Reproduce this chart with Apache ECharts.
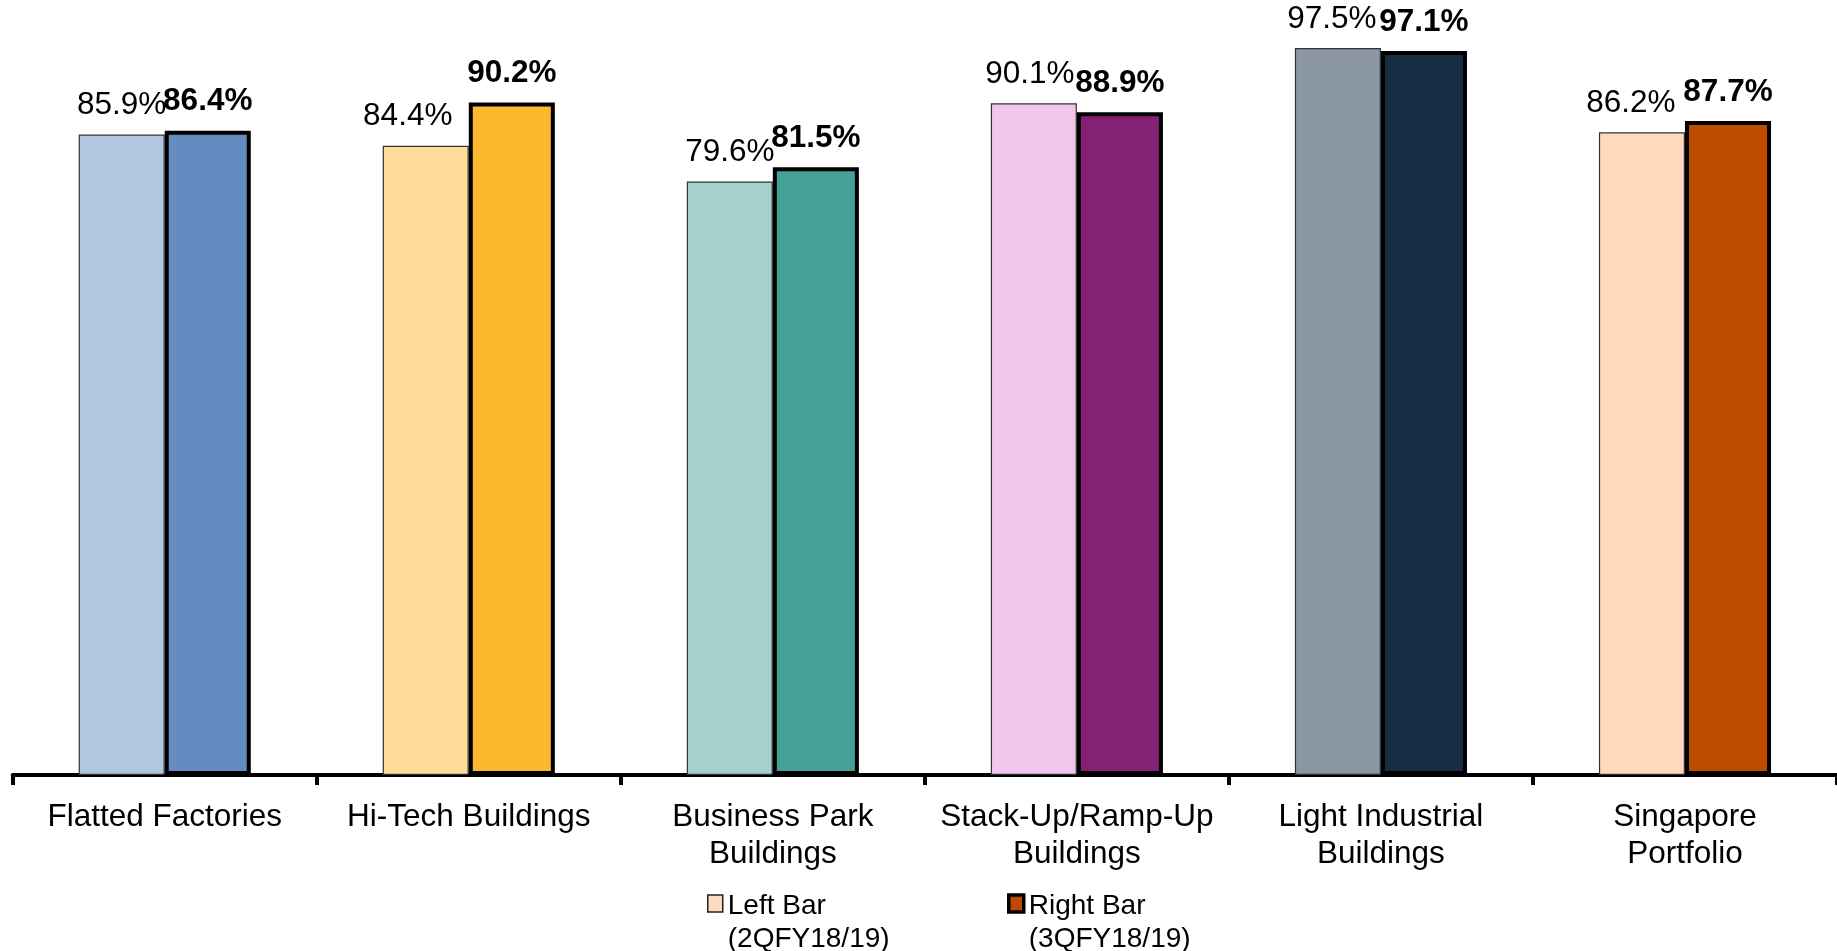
<!DOCTYPE html>
<html>
<head>
<meta charset="utf-8">
<script src="https://cdn.jsdelivr.net/npm/echarts@6/dist/echarts.min.js"></script>
<style>
html,body{margin:0;padding:0;background:#fff;}
#chart{width:1837px;height:951px;}
</style>
</head>
<body>
<div id="chart"></div>
<script>
const categories = ["Flatted Factories", "Hi-Tech Buildings", "Business Park\nBuildings", "Stack-Up/Ramp-Up\nBuildings", "Light Industrial\nBuildings", "Singapore\nPortfolio"];
const leftValues = [85.9, 84.4, 79.6, 90.1, 97.5, 86.2];
const rightValues = [86.4, 90.2, 81.5, 88.9, 97.1, 87.7];
const leftColors = ["#B3C6E0", "#FEDB96", "#A4D1CC", "#F0C6EA", "#8A96A3", "#FDD9BE"];
const rightColors = ["#658CC0", "#FCB92E", "#45A097", "#832273", "#182B45", "#BC4B00"];
const seriesNames = ["Left Bar\n(2QFY18/19)", "Right Bar\n(3QFY18/19)"];
// horizontal nudges of the left-bar value labels (style only, px)
const leftLabelNudge = [0, -18, 0, -4, -6, -11];

const FONT = "'Liberation Sans', Arial, sans-serif";
const chart = echarts.init(document.getElementById('chart'), null, {renderer: 'canvas'});

// square icon placed at top of a taller box so it lines up with the first text line
const ICON = 'path://M0,0L15,0L15,17L0,17Z M0,56';
const legendText = {fontFamily: FONT, fontSize: 28, lineHeight: 33, color: '#000'};

chart.setOption({
  animation: false,
  backgroundColor: '#fff',
  grid: {left: 12.7, right: 0, top: 29.4, bottom: 176, containLabel: false},
  legend: [
    {data: [{name: seriesNames[0], icon: ICON, itemStyle: {color: leftColors[5], borderColor: '#222', borderWidth: 1.5}}],
     left: 707, top: 890, padding: 0, itemWidth: 15, itemHeight: 56, itemGap: 6, textStyle: legendText, selectedMode: false},
    {data: [{name: seriesNames[1], icon: ICON, itemStyle: {color: rightColors[5], borderColor: '#000', borderWidth: 3.5}}],
     left: 1007, top: 890, padding: 0, itemWidth: 15, itemHeight: 56, itemGap: 6, textStyle: legendText, selectedMode: false}
  ],
  xAxis: {
    type: 'category',
    data: categories,
    axisLine: {show: true, lineStyle: {color: '#000', width: 4}},
    axisTick: {show: true, length: 10, lineStyle: {color: '#000', width: 4}},
    axisLabel: {fontFamily: FONT, fontSize: 31.5, lineHeight: 37, color: '#000', margin: 24, interval: 0, align: 'center'},
    splitLine: {show: false}
  },
  yAxis: {
    type: 'value', min: 0, max: 100, show: false
  },
  series: [
    {
      name: seriesNames[0],
      type: 'bar',
      barGap: '0%',
      barCategoryGap: '43.4%',
      itemStyle: {color: leftColors[5], borderColor: '#333', borderWidth: 1.2},
      data: leftValues.map((v, i) => ({value: v, itemStyle: {color: leftColors[i]}, label: {offset: [leftLabelNudge[i], 0]}})),
      label: {show: true, position: 'top', distance: 13, fontFamily: FONT, fontSize: 31.5, color: '#000',
        formatter: p => p.value.toFixed(1) + '%'}
    },
    {
      name: seriesNames[1],
      type: 'bar',
      barGap: '0%',
      barCategoryGap: '43.4%',
      itemStyle: {color: rightColors[5], borderColor: '#000', borderWidth: 4},
      data: rightValues.map((v, i) => ({value: v, itemStyle: {color: rightColors[i]}})),
      label: {show: true, position: 'top', distance: 13, fontFamily: FONT, fontSize: 31.5, fontWeight: 'bold', color: '#000',
        formatter: p => p.value.toFixed(1) + '%'}
    }
  ]
});
</script>
</body>
</html>
